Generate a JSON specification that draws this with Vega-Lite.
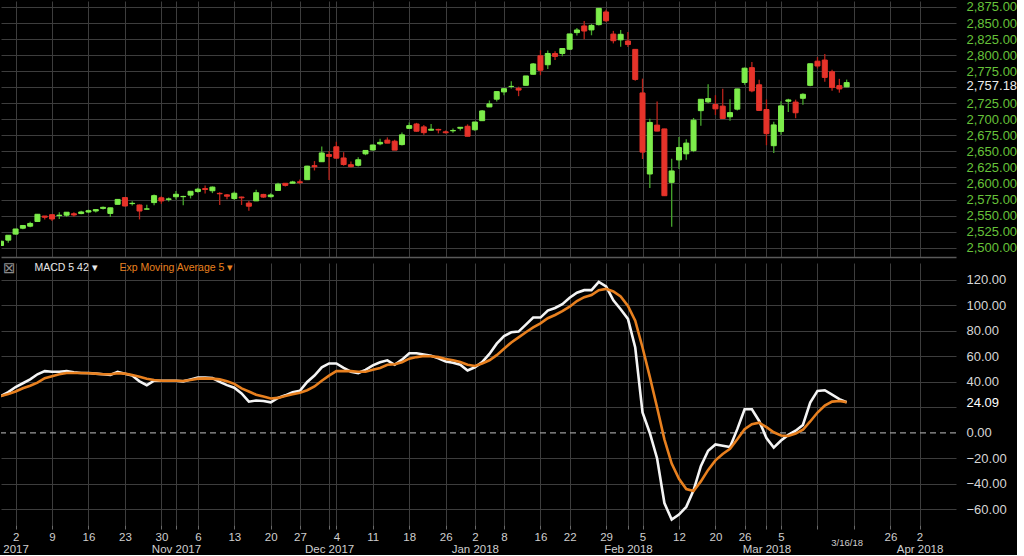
{
  "$schema": "https://vega.github.io/schema/vega-lite/v6.json",
  "background": "#000000",
  "padding": 0,
  "spacing": 6,
  "config": {
    "view": {"stroke": null},
    "font": "Liberation Sans",
    "axis": {"labelFont": "Liberation Sans", "titleFont": "Liberation Sans", "labelOverlap": false},
    "legend": {"labelFont": "Liberation Sans"}
  },
  "datasets": {
    "px": [
      {"d":"2017-09-28","o":2503.41,"h":2510.81,"l":2502.93,"c":2510.06,"m":29,"s":29},
      {"d":"2017-09-29","o":2511.75,"h":2519.51,"l":2507.67,"c":2519.36,"m":32,"s":30.5},
      {"d":"2017-10-02","o":2521.20,"h":2529.23,"l":2520.40,"c":2529.12,"m":36,"s":32.5},
      {"d":"2017-10-03","o":2530.34,"h":2535.13,"l":2528.85,"c":2534.58,"m":39,"s":35},
      {"d":"2017-10-04","o":2533.48,"h":2540.53,"l":2531.80,"c":2537.74,"m":42,"s":37},
      {"d":"2017-10-05","o":2540.86,"h":2552.51,"l":2540.02,"c":2552.07,"m":46,"s":39.5},
      {"d":"2017-10-06","o":2547.44,"h":2549.41,"l":2543.79,"c":2549.33,"m":48.5,"s":43},
      {"d":"2017-10-09","o":2551.39,"h":2551.82,"l":2541.60,"c":2544.73,"m":48,"s":44.5},
      {"d":"2017-10-10","o":2549.99,"h":2555.23,"l":2544.86,"c":2550.64,"m":48,"s":46},
      {"d":"2017-10-11","o":2550.62,"h":2555.24,"l":2547.95,"c":2555.24,"m":48.5,"s":47},
      {"d":"2017-10-12","o":2552.88,"h":2555.33,"l":2548.31,"c":2550.93,"m":47.5,"s":47},
      {"d":"2017-10-13","o":2555.66,"h":2557.65,"l":2552.09,"c":2553.17,"m":47,"s":47},
      {"d":"2017-10-16","o":2555.57,"h":2559.47,"l":2553.80,"c":2557.64,"m":47,"s":46.8},
      {"d":"2017-10-17","o":2557.17,"h":2559.71,"l":2554.69,"c":2559.36,"m":46.5,"s":46.5},
      {"d":"2017-10-18","o":2562.87,"h":2564.11,"l":2559.67,"c":2561.26,"m":46,"s":46},
      {"d":"2017-10-19","o":2553.39,"h":2562.36,"l":2547.92,"c":2562.10,"m":45.5,"s":46},
      {"d":"2017-10-20","o":2567.56,"h":2575.44,"l":2567.56,"c":2575.21,"m":48,"s":46.8},
      {"d":"2017-10-23","o":2578.08,"h":2578.29,"l":2564.33,"c":2564.98,"m":46.5,"s":46.5},
      {"d":"2017-10-24","o":2568.66,"h":2572.18,"l":2565.58,"c":2569.13,"m":45,"s":45.5},
      {"d":"2017-10-25","o":2566.52,"h":2567.40,"l":2544.00,"c":2557.15,"m":40.5,"s":44},
      {"d":"2017-10-26","o":2560.08,"h":2567.07,"l":2559.80,"c":2560.40,"m":37.5,"s":42.5},
      {"d":"2017-10-27","o":2570.26,"h":2582.98,"l":2565.94,"c":2581.07,"m":41,"s":41.5},
      {"d":"2017-10-30","o":2577.75,"h":2580.03,"l":2568.25,"c":2572.83,"m":41,"s":41},
      {"d":"2017-10-31","o":2575.99,"h":2578.29,"l":2572.15,"c":2575.26,"m":41,"s":41},
      {"d":"2017-11-01","o":2583.21,"h":2588.40,"l":2574.92,"c":2579.36,"m":41,"s":41},
      {"d":"2017-11-02","o":2579.46,"h":2581.11,"l":2566.17,"c":2579.85,"m":40.5,"s":40.8},
      {"d":"2017-11-03","o":2581.93,"h":2588.42,"l":2576.77,"c":2587.84,"m":42,"s":41.5},
      {"d":"2017-11-06","o":2587.47,"h":2593.38,"l":2585.66,"c":2591.13,"m":43.5,"s":42.6},
      {"d":"2017-11-07","o":2592.11,"h":2597.02,"l":2584.35,"c":2590.64,"m":43.5,"s":42.8},
      {"d":"2017-11-08","o":2588.71,"h":2595.47,"l":2585.02,"c":2594.38,"m":43,"s":42.6},
      {"d":"2017-11-09","o":2584.00,"h":2586.50,"l":2566.33,"c":2584.62,"m":40,"s":42},
      {"d":"2017-11-10","o":2580.18,"h":2583.81,"l":2575.57,"c":2582.30,"m":37.5,"s":40.5},
      {"d":"2017-11-13","o":2576.53,"h":2587.66,"l":2574.48,"c":2584.84,"m":35.5,"s":38.5},
      {"d":"2017-11-14","o":2577.75,"h":2579.66,"l":2566.56,"c":2578.87,"m":31,"s":35},
      {"d":"2017-11-15","o":2569.45,"h":2572.84,"l":2557.45,"c":2564.62,"m":24.5,"s":32.5},
      {"d":"2017-11-16","o":2572.95,"h":2590.09,"l":2572.95,"c":2585.64,"m":25.5,"s":30},
      {"d":"2017-11-17","o":2582.94,"h":2583.96,"l":2577.62,"c":2578.85,"m":25,"s":28.5},
      {"d":"2017-11-20","o":2579.49,"h":2584.64,"l":2578.24,"c":2582.14,"m":24,"s":27},
      {"d":"2017-11-21","o":2589.17,"h":2601.19,"l":2589.17,"c":2599.03,"m":27.5,"s":27.5},
      {"d":"2017-11-22","o":2600.31,"h":2600.94,"l":2595.23,"c":2597.08,"m":29.5,"s":29},
      {"d":"2017-11-24","o":2600.42,"h":2604.21,"l":2600.42,"c":2602.42,"m":32,"s":30.3},
      {"d":"2017-11-27","o":2602.66,"h":2606.41,"l":2598.87,"c":2601.42,"m":33,"s":31.6},
      {"d":"2017-11-28","o":2605.94,"h":2627.69,"l":2605.44,"c":2627.04,"m":40,"s":33.5},
      {"d":"2017-11-29","o":2627.82,"h":2634.89,"l":2620.32,"c":2626.07,"m":45,"s":36.5},
      {"d":"2017-11-30","o":2633.93,"h":2657.74,"l":2633.93,"c":2647.58,"m":51.5,"s":41},
      {"d":"2017-12-01","o":2645.10,"h":2650.62,"l":2605.52,"c":2642.22,"m":54.5,"s":45},
      {"d":"2017-12-04","o":2657.19,"h":2665.19,"l":2639.03,"c":2639.44,"m":54.5,"s":48.5},
      {"d":"2017-12-05","o":2639.78,"h":2648.72,"l":2627.73,"c":2629.57,"m":51,"s":48.6},
      {"d":"2017-12-06","o":2626.24,"h":2634.41,"l":2624.75,"c":2629.27,"m":48,"s":48.5},
      {"d":"2017-12-07","o":2628.38,"h":2640.99,"l":2626.53,"c":2636.98,"m":47,"s":48},
      {"d":"2017-12-08","o":2646.21,"h":2651.65,"l":2644.10,"c":2651.50,"m":49.5,"s":48},
      {"d":"2017-12-11","o":2652.19,"h":2660.33,"l":2651.47,"c":2659.99,"m":53,"s":49.5},
      {"d":"2017-12-12","o":2661.73,"h":2669.72,"l":2659.78,"c":2664.11,"m":55.5,"s":51},
      {"d":"2017-12-13","o":2667.59,"h":2671.88,"l":2662.85,"c":2662.85,"m":57,"s":53.5},
      {"d":"2017-12-14","o":2665.87,"h":2668.09,"l":2652.01,"c":2652.01,"m":53.5,"s":53.9},
      {"d":"2017-12-15","o":2660.63,"h":2679.63,"l":2659.14,"c":2675.81,"m":57.5,"s":55.5},
      {"d":"2017-12-18","o":2685.92,"h":2694.97,"l":2685.92,"c":2690.16,"m":62.5,"s":58.3},
      {"d":"2017-12-19","o":2692.71,"h":2694.44,"l":2680.74,"c":2681.47,"m":62.5,"s":59.5},
      {"d":"2017-12-20","o":2688.18,"h":2691.01,"l":2676.11,"c":2679.25,"m":61.5,"s":60.4},
      {"d":"2017-12-21","o":2683.02,"h":2692.64,"l":2682.40,"c":2684.57,"m":60.5,"s":60.2},
      {"d":"2017-12-22","o":2684.22,"h":2685.35,"l":2678.13,"c":2683.34,"m":58.5,"s":59.5},
      {"d":"2017-12-26","o":2679.09,"h":2682.74,"l":2677.96,"c":2680.50,"m":56,"s":58},
      {"d":"2017-12-27","o":2682.10,"h":2685.64,"l":2678.91,"c":2682.62,"m":55,"s":57},
      {"d":"2017-12-28","o":2686.10,"h":2687.66,"l":2682.69,"c":2687.54,"m":53.5,"s":55.7},
      {"d":"2017-12-29","o":2689.15,"h":2692.12,"l":2673.61,"c":2673.61,"m":49,"s":53.5},
      {"d":"2018-01-02","o":2683.73,"h":2695.89,"l":2682.36,"c":2695.81,"m":51.5,"s":52.5},
      {"d":"2018-01-03","o":2697.85,"h":2714.37,"l":2697.77,"c":2713.06,"m":55.5,"s":54.5},
      {"d":"2018-01-04","o":2719.31,"h":2729.29,"l":2719.07,"c":2723.99,"m":62,"s":57},
      {"d":"2018-01-05","o":2731.33,"h":2743.45,"l":2727.92,"c":2743.15,"m":70,"s":61},
      {"d":"2018-01-08","o":2742.67,"h":2748.51,"l":2737.60,"c":2747.71,"m":76,"s":66},
      {"d":"2018-01-09","o":2751.15,"h":2759.14,"l":2747.86,"c":2751.29,"m":79,"s":71},
      {"d":"2018-01-10","o":2745.55,"h":2750.80,"l":2736.06,"c":2748.23,"m":79.5,"s":75},
      {"d":"2018-01-11","o":2752.97,"h":2767.56,"l":2752.78,"c":2767.56,"m":85,"s":79},
      {"d":"2018-01-12","o":2770.18,"h":2787.85,"l":2769.64,"c":2786.24,"m":90.5,"s":82.8},
      {"d":"2018-01-16","o":2798.96,"h":2807.54,"l":2768.64,"c":2776.42,"m":90.5,"s":86},
      {"d":"2018-01-17","o":2784.99,"h":2807.04,"l":2778.38,"c":2802.56,"m":96,"s":90},
      {"d":"2018-01-18","o":2802.40,"h":2805.83,"l":2792.56,"c":2798.03,"m":98,"s":92.5},
      {"d":"2018-01-19","o":2802.60,"h":2810.33,"l":2798.08,"c":2810.30,"m":101,"s":95.5},
      {"d":"2018-01-22","o":2809.16,"h":2833.03,"l":2808.12,"c":2832.97,"m":106,"s":99},
      {"d":"2018-01-23","o":2835.05,"h":2842.24,"l":2830.59,"c":2839.13,"m":110,"s":103.5},
      {"d":"2018-01-24","o":2845.42,"h":2852.97,"l":2824.81,"c":2837.54,"m":112,"s":106.5},
      {"d":"2018-01-25","o":2846.24,"h":2848.56,"l":2830.94,"c":2839.25,"m":112,"s":108.2},
      {"d":"2018-01-26","o":2847.48,"h":2872.87,"l":2846.18,"c":2872.87,"m":118.5,"s":112},
      {"d":"2018-01-29","o":2867.23,"h":2870.62,"l":2851.48,"c":2853.53,"m":115,"s":113},
      {"d":"2018-01-30","o":2832.74,"h":2837.75,"l":2818.27,"c":2822.43,"m":104,"s":111},
      {"d":"2018-01-31","o":2832.41,"h":2839.26,"l":2813.04,"c":2823.81,"m":97,"s":107},
      {"d":"2018-02-01","o":2816.45,"h":2835.96,"l":2812.70,"c":2821.98,"m":89.5,"s":99.6},
      {"d":"2018-02-02","o":2808.92,"h":2808.92,"l":2759.97,"c":2762.13,"m":67,"s":88},
      {"d":"2018-02-05","o":2741.06,"h":2763.39,"l":2638.17,"c":2648.94,"m":16,"s":67},
      {"d":"2018-02-06","o":2614.78,"h":2701.04,"l":2593.07,"c":2695.14,"m":0,"s":44},
      {"d":"2018-02-07","o":2690.95,"h":2727.67,"l":2681.33,"c":2681.66,"m":-20,"s":20},
      {"d":"2018-02-08","o":2685.01,"h":2685.27,"l":2580.56,"c":2581.00,"m":-55,"s":-5},
      {"d":"2018-02-09","o":2601.78,"h":2638.67,"l":2532.69,"c":2619.55,"m":-68,"s":-24},
      {"d":"2018-02-12","o":2636.75,"h":2672.61,"l":2622.45,"c":2656.00,"m":-64,"s":-36},
      {"d":"2018-02-13","o":2646.27,"h":2668.84,"l":2637.08,"c":2662.94,"m":-58,"s":-44},
      {"d":"2018-02-14","o":2651.21,"h":2702.10,"l":2648.87,"c":2698.63,"m":-45,"s":-45.5},
      {"d":"2018-02-15","o":2713.46,"h":2731.51,"l":2689.82,"c":2731.20,"m":-26,"s":-38},
      {"d":"2018-02-16","o":2727.14,"h":2754.42,"l":2725.11,"c":2732.22,"m":-14,"s":-29},
      {"d":"2018-02-20","o":2722.99,"h":2737.60,"l":2706.76,"c":2716.26,"m":-9,"s":-21.5},
      {"d":"2018-02-21","o":2720.53,"h":2747.75,"l":2701.29,"c":2701.33,"m":-10,"s":-16.5},
      {"d":"2018-02-22","o":2710.42,"h":2731.26,"l":2697.77,"c":2703.96,"m":-11,"s":-12.5},
      {"d":"2018-02-23","o":2715.80,"h":2747.76,"l":2713.74,"c":2747.30,"m":3,"s":-5},
      {"d":"2018-02-26","o":2757.37,"h":2780.64,"l":2753.78,"c":2779.60,"m":18.6,"s":3},
      {"d":"2018-02-27","o":2780.45,"h":2789.15,"l":2742.10,"c":2744.28,"m":18.6,"s":6.8},
      {"d":"2018-02-28","o":2753.78,"h":2761.52,"l":2713.54,"c":2713.83,"m":9.4,"s":8},
      {"d":"2018-03-01","o":2715.22,"h":2730.89,"l":2659.65,"c":2677.67,"m":-4,"s":4.5},
      {"d":"2018-03-02","o":2658.89,"h":2696.25,"l":2647.32,"c":2691.25,"m":-11.5,"s":0.5},
      {"d":"2018-03-05","o":2681.06,"h":2728.09,"l":2675.75,"c":2720.94,"m":-6,"s":-2},
      {"d":"2018-03-06","o":2730.18,"h":2732.08,"l":2711.26,"c":2728.12,"m":-1.5,"s":-2.4},
      {"d":"2018-03-07","o":2710.18,"h":2730.60,"l":2701.74,"c":2726.80,"m":1.8,"s":-0.5},
      {"d":"2018-03-08","o":2732.75,"h":2740.45,"l":2722.65,"c":2738.97,"m":6.3,"s":2.5},
      {"d":"2018-03-09","o":2752.91,"h":2786.57,"l":2751.54,"c":2786.57,"m":23.8,"s":9},
      {"d":"2018-03-12","o":2790.54,"h":2796.98,"l":2779.26,"c":2783.02,"m":33,"s":16},
      {"d":"2018-03-13","o":2792.31,"h":2801.90,"l":2758.68,"c":2765.31,"m":33.5,"s":21.5},
      {"d":"2018-03-14","o":2774.06,"h":2777.11,"l":2744.38,"c":2749.48,"m":30,"s":24.6},
      {"d":"2018-03-15","o":2752.45,"h":2763.03,"l":2741.47,"c":2747.33,"m":26.5,"s":25},
      {"d":"2018-03-16","o":2750.57,"h":2761.85,"l":2749.97,"c":2757.18,"m":24.09,"s":24.2}
    ]
  },
  "vconcat": [
    {
      "width": 955,
      "height": 256,
      "data": {"name": "px"},
      "transform": [{"window": [{"op": "lag", "field": "c", "as": "pc"}]}],
      "encoding": {
        "x": {
          "field": "d", "type": "ordinal",
          "scale": {"type": "point", "padding": 0, "domain": ["2017-09-28","2017-09-29","2017-10-02","2017-10-03","2017-10-04","2017-10-05","2017-10-06","2017-10-09","2017-10-10","2017-10-11","2017-10-12","2017-10-13","2017-10-16","2017-10-17","2017-10-18","2017-10-19","2017-10-20","2017-10-23","2017-10-24","2017-10-25","2017-10-26","2017-10-27","2017-10-30","2017-10-31","2017-11-01","2017-11-02","2017-11-03","2017-11-06","2017-11-07","2017-11-08","2017-11-09","2017-11-10","2017-11-13","2017-11-14","2017-11-15","2017-11-16","2017-11-17","2017-11-20","2017-11-21","2017-11-22","2017-11-24","2017-11-27","2017-11-28","2017-11-29","2017-11-30","2017-12-01","2017-12-04","2017-12-05","2017-12-06","2017-12-07","2017-12-08","2017-12-11","2017-12-12","2017-12-13","2017-12-14","2017-12-15","2017-12-18","2017-12-19","2017-12-20","2017-12-21","2017-12-22","2017-12-26","2017-12-27","2017-12-28","2017-12-29","2018-01-02","2018-01-03","2018-01-04","2018-01-05","2018-01-08","2018-01-09","2018-01-10","2018-01-11","2018-01-12","2018-01-16","2018-01-17","2018-01-18","2018-01-19","2018-01-22","2018-01-23","2018-01-24","2018-01-25","2018-01-26","2018-01-29","2018-01-30","2018-01-31","2018-02-01","2018-02-02","2018-02-05","2018-02-06","2018-02-07","2018-02-08","2018-02-09","2018-02-12","2018-02-13","2018-02-14","2018-02-15","2018-02-16","2018-02-20","2018-02-21","2018-02-22","2018-02-23","2018-02-26","2018-02-27","2018-02-28","2018-03-01","2018-03-02","2018-03-05","2018-03-06","2018-03-07","2018-03-08","2018-03-09","2018-03-12","2018-03-13","2018-03-14","2018-03-15","2018-03-16","2018-03-19","2018-03-20","2018-03-21","2018-03-22","2018-03-23","2018-03-26","2018-03-27","2018-03-28","2018-03-29","2018-04-02","2018-04-03","2018-04-04","2018-04-05","2018-04-06","2018-04-09"]},
          "axis": {
            "title": null, "labels": false, "ticks": false,
            "domain": true, "domainColor": "#5a5a5a", "domainWidth": 1.5,
            "grid": true, "gridColor": "#3d3d3d",
            "values": ["2017-10-02","2017-10-09","2017-10-16","2017-10-23","2017-10-30","2017-11-01","2017-11-06","2017-11-13","2017-11-20","2017-11-27","2017-12-01","2017-12-04","2017-12-11","2017-12-18","2017-12-26","2018-01-02","2018-01-08","2018-01-16","2018-01-22","2018-01-29","2018-02-01","2018-02-05","2018-02-12","2018-02-20","2018-02-26","2018-03-01","2018-03-05","2018-03-12","2018-03-19","2018-03-26","2018-04-02"]
          }
        }
      },
      "layer": [
        {
          "mark": {"type": "rule", "clip": true, "strokeWidth": 1.3},
          "encoding": {
            "y": {
              "field": "l", "type": "quantitative",
              "scale": {"domain": [2485.5, 2884.3], "zero": false, "nice": false},
              "axis": {
                "title": null, "orient": "right", "domain": false, "ticks": false,
                "grid": true, "gridColor": "#3d3d3d", "labelOverlap": false, "labelBound": false,
                "values": [2500,2525,2550,2575,2600,2625,2650,2675,2700,2725,2750,2775,2800,2825,2850,2875,2757.18],
                "format": ",.2f",
                "labelExpr": "datum.value == 2750 ? '' : datum.label",
                "labelFontSize": 13, "labelPadding": 10,
                "labelOffset": {"condition": {"test": "datum.value == 2757.18", "value": 2.5}, "value": 0},
                "labelColor": {"condition": {"test": "datum.value == 2757.18", "value": "#ececec"}, "value": "#67c23a"},
                "gridOpacity": {"condition": {"test": "datum.value == 2757.18", "value": 0}, "value": 1}
              }
            },
            "y2": {"field": "h"},
            "color": {"condition": {"test": "datum.pc == null || datum.c >= datum.pc", "value": "#45a52c"}, "value": "#b9231a"}
          }
        },
        {
          "mark": {"type": "bar", "clip": true, "width": 5, "strokeWidth": 1},
          "encoding": {
            "y": {
              "field": "o", "type": "quantitative",
              "scale": {"domain": [2485.5, 2884.3], "zero": false, "nice": false},
              "axis": {
                "title": null, "orient": "right", "domain": false, "ticks": false,
                "grid": true, "gridColor": "#3d3d3d", "labelOverlap": false, "labelBound": false,
                "values": [2500,2525,2550,2575,2600,2625,2650,2675,2700,2725,2750,2775,2800,2825,2850,2875,2757.18],
                "format": ",.2f",
                "labelExpr": "datum.value == 2750 ? '' : datum.label",
                "labelFontSize": 13, "labelPadding": 10,
                "labelOffset": {"condition": {"test": "datum.value == 2757.18", "value": 2.5}, "value": 0},
                "labelColor": {"condition": {"test": "datum.value == 2757.18", "value": "#ececec"}, "value": "#67c23a"},
                "gridOpacity": {"condition": {"test": "datum.value == 2757.18", "value": 0}, "value": 1}
              }
            },
            "y2": {"field": "c"},
            "fill": {"condition": {"test": "datum.pc == null || datum.c >= datum.pc", "value": "#7ded4b"}, "value": "#e6332a"},
            "stroke": {"condition": {"test": "datum.pc == null || datum.c >= datum.pc", "value": "#7ded4b"}, "value": "#e6332a"}
          }
        }
      ]
    },
    {
      "width": 955,
      "height": 262,
      "layer": [
        {
          "data": {"values": [{}]},
          "mark": {"type": "rule", "strokeDash": [6, 4], "color": "#9a9a9a", "strokeWidth": 1.3},
          "encoding": {
            "y": {
              "datum": 0, "type": "quantitative",
              "scale": {"domain": [-72.2, 133.3], "zero": false, "nice": false},
              "axis": {
                "title": null, "orient": "right", "domain": false, "ticks": false,
                "grid": true, "gridColor": "#3d3d3d", "labelOverlap": false, "labelBound": false,
                "values": [-60, -40, -20, 0, 20, 40, 60, 80, 100, 120, 24.09],
                "format": ".2f",
                "labelExpr": "datum.value == 20 ? '' : datum.label",
                "labelFontSize": 13, "labelPadding": 10,
                "labelColor": {"condition": {"test": "datum.value == 24.09", "value": "#ffffff"}, "value": "#d6d6d6"},
                "gridOpacity": {"condition": {"test": "datum.value == 24.09 || datum.value == 0", "value": 0}, "value": 1}
              }
            }
          }
        },
        {
          "data": {"name": "px"},
          "transform": [{"fold": ["m", "s"], "as": ["k", "v"]}],
          "mark": {"type": "line", "strokeWidth": 2.6, "clip": true},
          "encoding": {
            "x": {
              "field": "d", "type": "ordinal",
              "scale": {"type": "point", "padding": 0, "domain": ["2017-09-28","2017-09-29","2017-10-02","2017-10-03","2017-10-04","2017-10-05","2017-10-06","2017-10-09","2017-10-10","2017-10-11","2017-10-12","2017-10-13","2017-10-16","2017-10-17","2017-10-18","2017-10-19","2017-10-20","2017-10-23","2017-10-24","2017-10-25","2017-10-26","2017-10-27","2017-10-30","2017-10-31","2017-11-01","2017-11-02","2017-11-03","2017-11-06","2017-11-07","2017-11-08","2017-11-09","2017-11-10","2017-11-13","2017-11-14","2017-11-15","2017-11-16","2017-11-17","2017-11-20","2017-11-21","2017-11-22","2017-11-24","2017-11-27","2017-11-28","2017-11-29","2017-11-30","2017-12-01","2017-12-04","2017-12-05","2017-12-06","2017-12-07","2017-12-08","2017-12-11","2017-12-12","2017-12-13","2017-12-14","2017-12-15","2017-12-18","2017-12-19","2017-12-20","2017-12-21","2017-12-22","2017-12-26","2017-12-27","2017-12-28","2017-12-29","2018-01-02","2018-01-03","2018-01-04","2018-01-05","2018-01-08","2018-01-09","2018-01-10","2018-01-11","2018-01-12","2018-01-16","2018-01-17","2018-01-18","2018-01-19","2018-01-22","2018-01-23","2018-01-24","2018-01-25","2018-01-26","2018-01-29","2018-01-30","2018-01-31","2018-02-01","2018-02-02","2018-02-05","2018-02-06","2018-02-07","2018-02-08","2018-02-09","2018-02-12","2018-02-13","2018-02-14","2018-02-15","2018-02-16","2018-02-20","2018-02-21","2018-02-22","2018-02-23","2018-02-26","2018-02-27","2018-02-28","2018-03-01","2018-03-02","2018-03-05","2018-03-06","2018-03-07","2018-03-08","2018-03-09","2018-03-12","2018-03-13","2018-03-14","2018-03-15","2018-03-16","2018-03-19","2018-03-20","2018-03-21","2018-03-22","2018-03-23","2018-03-26","2018-03-27","2018-03-28","2018-03-29","2018-04-02","2018-04-03","2018-04-04","2018-04-05","2018-04-06","2018-04-09"]},
              "axis": {
                "title": null, "domain": false, "labelAngle": 0,
                "grid": true, "gridColor": "#3d3d3d",
                "values": ["2017-10-02","2017-10-09","2017-10-16","2017-10-23","2017-10-30","2017-11-01","2017-11-06","2017-11-13","2017-11-20","2017-11-27","2017-12-01","2017-12-04","2017-12-11","2017-12-18","2017-12-26","2018-01-02","2018-01-08","2018-01-16","2018-01-22","2018-01-29","2018-02-01","2018-02-05","2018-02-12","2018-02-20","2018-02-26","2018-03-01","2018-03-05","2018-03-12","2018-03-16","2018-03-19","2018-03-26","2018-04-02"],
                "labelExpr": "datum.value == '2017-11-01' ? ['', 'Nov 2017'] : datum.value == '2017-12-01' ? ['', 'Dec 2017'] : datum.value == '2018-02-01' ? ['', 'Feb 2018'] : datum.value == '2018-03-01' ? ['', 'Mar 2018'] : datum.value == '2017-10-02' ? ['2', '2017'] : datum.value == '2018-01-02' ? ['2', 'Jan 2018'] : datum.value == '2018-04-02' ? ['2', 'Apr 2018'] : datum.value == '2018-03-16' ? '3/16/18' : (datum.value == '2018-03-12' || datum.value == '2018-03-19') ? '' : '' + parseInt(substring(datum.value, 8, 10))",
                "labelOverlap": false, "labelBound": false,
                "labelColor": "#cfcfcf", "labelLineHeight": 12.5,
                "labelPadding": {"condition": {"test": "datum.value == '2018-03-16'", "value": 8}, "value": 2},
                "labelFontSize": {"condition": {"test": "datum.value == '2018-03-16'", "value": 9.5}, "value": 11.5},
                "tickSize": 4, "tickColor": "#6a6a6a",
                "tickOpacity": {"condition": {"test": "datum.value == '2018-03-16'", "value": 0}, "value": 1},
                "gridOpacity": {"condition": {"test": "datum.value == '2018-03-16'", "value": 0}, "value": 1}
              }
            },
            "y": {
              "field": "v", "type": "quantitative",
              "scale": {"domain": [-72.2, 133.3], "zero": false, "nice": false},
              "axis": {
                "title": null, "orient": "right", "domain": false, "ticks": false,
                "grid": true, "gridColor": "#3d3d3d", "labelOverlap": false, "labelBound": false,
                "values": [-60, -40, -20, 0, 20, 40, 60, 80, 100, 120, 24.09],
                "format": ".2f",
                "labelExpr": "datum.value == 20 ? '' : datum.label",
                "labelFontSize": 13, "labelPadding": 10,
                "labelColor": {"condition": {"test": "datum.value == 24.09", "value": "#ffffff"}, "value": "#d6d6d6"},
                "gridOpacity": {"condition": {"test": "datum.value == 24.09 || datum.value == 0", "value": 0}, "value": 1}
              }
            },
            "color": {
              "field": "k", "type": "nominal",
              "scale": {"domain": ["m", "s"], "range": ["#f4f4f4", "#e8801f"]},
              "legend": {
                "orient": "none", "legendX": 2, "legendY": 262, "direction": "horizontal",
                "title": "⊠", "titleOrient": "left", "titleFont": "DejaVu Sans", "titleFontSize": 15,
                "titleFontWeight": "normal", "titleColor": "#8a8a8a", "titlePadding": 8,
                "symbolSize": 0, "symbolStrokeWidth": 0, "symbolOpacity": 0,
                "labelOffset": 0, "columnPadding": 8,
                "labelFontSize": 10.5, "labelColor": "#e8e8e8",
                "labelExpr": "datum.label == 'm' ? 'MACD 5 42  ▾' : 'Exp Moving Average 5  ▾'",
                "encode": {"labels": {"update": {"fill": {"signal": "datum.value == 'm' ? '#e8e8e8' : '#e8801f'"}}}}
              }
            }
          }
        }
      ]
    }
  ]
}
